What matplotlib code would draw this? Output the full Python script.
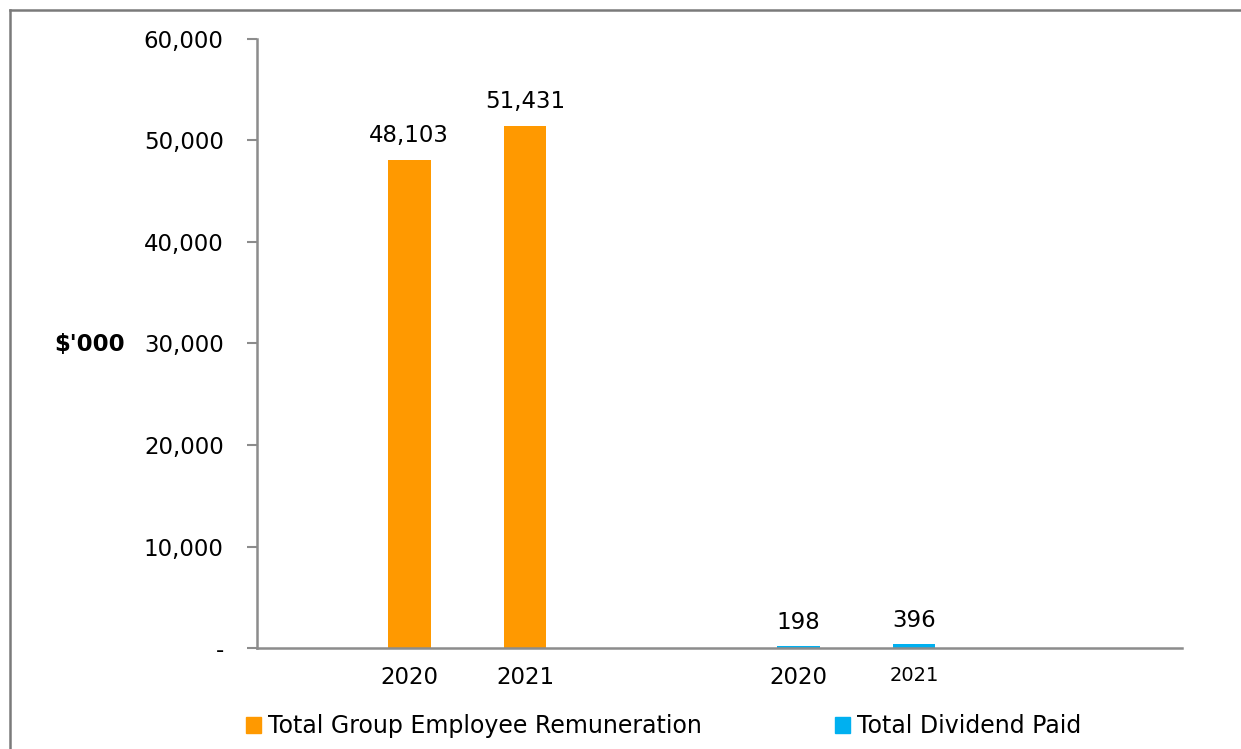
import numpy as np
import matplotlib.pyplot as plt
from matplotlib.lines import Line2D
from matplotlib.patches import Patch
from matplotlib.ticker import FuncFormatter

# Values in $'000
years = ["2020", "2021"]
remuneration = [48103, 51431]
dividend = [198, 396]
series_names = ["Total Group Employee Remuneration", "Total Dividend Paid"]
colors = ["#FF9900", "#00B0F0"]

plt.rcParams['font.family'] = ['DejaVu Sans']
text_size = 16.5

fig = plt.figure(figsize=(12.41, 7.49), dpi=100)
ax = fig.add_axes([0.2071, 0.1348, 0.7454, 0.8132])

group_x = np.array([0.0, 1.0])
offset = 0.149
width = 0.11

for g, (vals, col) in enumerate(zip([remuneration, dividend], colors)):
    xs = group_x[g] + np.array([-offset, offset])
    ax.bar(xs, vals, width=width, color=col, zorder=2)
    for x, v in zip(xs, vals):
        ax.annotate(f"{v:,}", (x, v), xytext=(0, 9), textcoords="offset points",
                    ha="center", va="bottom", fontsize=text_size)

ax.set_xlim(-0.54, 1.838)
ax.set_ylim(0, 60000)
ax.set_yticks(np.arange(0, 60001, 10000))
ax.yaxis.set_major_formatter(FuncFormatter(lambda v, p: "-" if v == 0 else f"{v:,.0f}"))

tick_x = np.concatenate([group_x[0] + np.array([-offset, offset]),
                         group_x[1] + np.array([-offset, offset])])
ax.set_xticks(tick_x)
ax.set_xticklabels(years + years)
for i, lab in enumerate(ax.get_xticklabels()):
    lab.set_fontsize(14 if i == 3 else text_size)
ax.tick_params(axis="x", length=0, pad=13)
ax.tick_params(axis="y", length=7, width=1.5, color="#8c8c8c", labelsize=text_size, pad=17)

for s in ["top", "right"]:
    ax.spines[s].set_visible(False)
for s in ["left", "bottom"]:
    ax.spines[s].set_color("#8c8c8c")
    ax.spines[s].set_linewidth(1.8)

fig.text(90 / 1241, 1 - 345 / 749, "$'000", ha="center", va="center",
         fontsize=text_size, fontweight="bold")

handles = [Patch(color=c) for c in colors]
fig.legend(handles, series_names, loc="center left", ncol=2, frameon=False,
           bbox_to_anchor=(246 / 1241, 1 - 726 / 749), fontsize=17,
           handlelength=0.65, handleheight=0.65, handletextpad=0.3,
           columnspacing=5.6, borderaxespad=0, borderpad=0)

# Frame lines along the top and left edges
fig.add_artist(Line2D([10 / 1241, 1], [1 - 10 / 749, 1 - 10 / 749],
                      transform=fig.transFigure, color="#7a7a7a", linewidth=1.8))
fig.add_artist(Line2D([10 / 1241, 10 / 1241], [0, 1 - 10 / 749],
                      transform=fig.transFigure, color="#7a7a7a", linewidth=1.8))

fig.savefig("out.png", dpi=100)
